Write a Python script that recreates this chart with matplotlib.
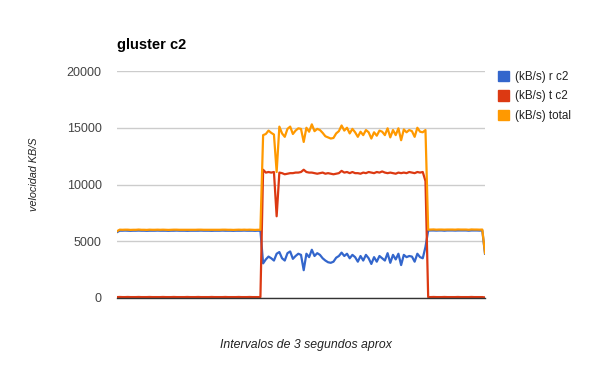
import matplotlib
matplotlib.use('Agg')
import matplotlib.pyplot as plt
from matplotlib.patches import Patch

plt.rcParams['font.family'] = ['Liberation Sans', 'DejaVu Sans']

# kB/s read per 3 second interval
r_c2 = [
    5800, 5930, 5930, 5940, 5930, 5920, 5930, 5930, 5940, 5930,
    5930, 5920, 5930, 5930, 5930, 5940, 5930, 5930, 5930, 5920,
    5930, 5930, 5940, 5930, 5930, 5930, 5920, 5930, 5930, 5930,
    5930, 5940, 5930, 5930, 5930, 5920, 5930, 5930, 5930, 5940,
    5930, 5930, 5930, 5920, 5930, 5930, 5930, 5940, 5930, 5930,
    5930, 5920, 5930, 5930,
    3050, 3400, 3650, 3500, 3300, 3900, 4050, 3500, 3300, 3950,
    4100, 3450, 3700, 3900, 3800, 2450, 3900, 3600, 4250, 3700,
    3950, 3800, 3500, 3300, 3150, 3100, 3200, 3550, 3700, 4000,
    3700, 3900, 3500, 3800, 3600, 3200, 3700, 3300, 3800, 3500,
    3000, 3600, 3200, 3700, 3500, 3300, 3950, 3100, 3800, 3400,
    3900, 2900, 3800, 3600, 3700, 3650, 3200, 3900, 3600, 3500,
    4500,
    5940, 5950, 5950, 5940, 5950, 5950, 5930, 5950, 5950, 5950,
    5940, 5950, 5950, 5950, 5950, 5930, 5950, 5950, 5950, 5940,
    5950,
    3900,
]

t_c2 = [
    80, 90, 80, 80, 90, 80, 80, 80, 90, 80,
    80, 80, 90, 80, 80, 80, 80, 90, 80, 80,
    80, 90, 80, 80, 80, 80, 90, 80, 80, 80,
    90, 80, 80, 80, 80, 90, 80, 80, 80, 80,
    90, 80, 80, 80, 80, 90, 80, 80, 80, 90,
    80, 80, 80, 80,
    11300, 11050, 11100, 11050, 11100, 7200, 11050, 11000, 10900, 10950,
    11000, 11000, 11050, 11050, 11100, 11300, 11100, 11050, 11050, 11000,
    10950, 11000, 11050, 10950, 11000, 10950, 10900, 10950, 11000, 11200,
    11050, 11100, 11000, 11100, 11000, 11000, 10950, 11050, 11000, 11100,
    11050, 11000, 11100, 11050, 11150, 11050, 11000, 11050, 11000, 10950,
    11050, 11000, 11050, 11000, 11100, 11050, 11000, 11100, 11050, 11100,
    10300,
    80, 80, 90, 80, 80, 80, 90, 80, 80, 80,
    80, 90, 80, 80, 80, 80, 90, 80, 80, 80,
    80,
    50,
]

total = [
    5880, 6020, 6010, 6020, 6020, 6000, 6010, 6010, 6030, 6010,
    6010, 6000, 6020, 6010, 6010, 6020, 6010, 6020, 6010, 6000,
    6010, 6020, 6020, 6010, 6010, 6010, 6010, 6010, 6010, 6010,
    6020, 6020, 6010, 6010, 6010, 6010, 6010, 6010, 6010, 6020,
    6020, 6010, 6010, 6000, 6010, 6020, 6010, 6020, 6010, 6020,
    6010, 6000, 6010, 6010,
    14350, 14450, 14750, 14550, 14400, 11100, 15100, 14500, 14200, 14900,
    15100, 14450, 14750, 14950, 14900, 13750, 15000, 14650, 15300, 14700,
    14900, 14800, 14550, 14250, 14150, 14050, 14100, 14500, 14700, 15200,
    14750, 15000, 14500, 14900, 14600, 14200, 14650, 14350, 14800, 14600,
    14050, 14600, 14300, 14750, 14650, 14350, 14950, 14150, 14800, 14350,
    14950, 13900, 14850, 14600, 14800, 14700, 14200, 15000, 14650, 14600,
    14800,
    6020, 6030, 6040, 6020, 6030, 6030, 6020, 6030, 6030, 6030,
    6020, 6040, 6030, 6030, 6030, 6010, 6040, 6030, 6030, 6020,
    6030,
    3950,
]

series_names = ['(kB/s) r c2', '(kB/s) t c2', '(kB/s) total']
series_colors = ['#3366cc', '#dc3912', '#ff9900']
y_ticks = [0, 5000, 10000, 15000, 20000]

fig = plt.figure(figsize=(6, 3.71), dpi=100)
ax = fig.add_axes([117 / 600, 1 - 298 / 371, 368 / 600, 227 / 371])

x = list(range(len(total)))
for data, color in zip([r_c2, t_c2, total], series_colors):
    ax.plot(x, data, color=color, linewidth=1.6, solid_joinstyle='round')

ax.set_xlim(0, len(total) - 1)
ax.set_ylim(0, 20000)
ax.set_yticks(y_ticks)
ax.set_yticklabels([str(v) for v in y_ticks], fontsize=9, color='#444444')
ax.set_xticks([])
ax.tick_params(axis='y', length=0, pad=11)
ax.grid(axis='y', color='#cccccc', linewidth=1)
ax.set_axisbelow(True)
for side in ['top', 'right', 'left']:
    ax.spines[side].set_visible(False)
ax.spines['bottom'].set_color('#333333')
ax.spines['bottom'].set_linewidth(1)
ax.spines['bottom'].set_zorder(5)

fig.text(117 / 600, 1 - 45 / 371, 'gluster c2', fontsize=10.5, fontweight='bold',
         color='#000000', va='center', ha='left')
fig.text(34 / 600, 1 - 174 / 371, 'velocidad KB/S', fontsize=7.8, style='italic',
         color='#222222', rotation=90, va='center', ha='center')
fig.text(306 / 600, 1 - 345 / 371, 'Intervalos de 3 segundos aprox', fontsize=8.8,
         style='italic', color='#222222', va='center', ha='center')

handles = [Patch(facecolor=c, edgecolor=c) for c in series_colors]
leg = fig.legend(handles, series_names, loc='upper left',
                 bbox_to_anchor=(493 / 600, 1 - 66 / 371), frameon=False,
                 fontsize=8.4, handlelength=1.0, handleheight=1.0,
                 handletextpad=0.45, labelspacing=0.62, borderaxespad=0)
for txt in leg.get_texts():
    txt.set_color('#222222')

fig.savefig('out.png', dpi=100, facecolor='white')
